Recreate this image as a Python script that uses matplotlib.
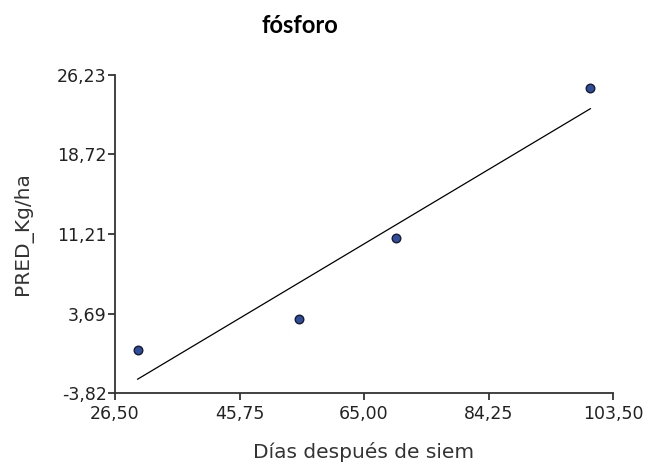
#!/usr/bin/env python3
import numpy as np
import matplotlib
matplotlib.use('Agg')
import matplotlib.pyplot as plt

# observed points (days after sowing, predicted kg/ha)
dias = [30.0, 55.0, 70.0, 100.0]
pred = [0.24, 3.17, 10.83, 25.0]

xticks = [26.50, 45.75, 65.00, 84.25, 103.50]
yticks = [-3.82, 3.69, 11.21, 18.72, 26.23]


def fmt(v):
    return ('%.2f' % v).replace('.', ',')


def main():
    X = np.array(dias)
    Y = np.array(pred)

    # best line of fit
    a, b = np.polyfit(X, Y, 1)
    xl = np.array([X.min(), X.max()])
    yl = a * xl + b

    plt.rcParams['font.family'] = ['DejaVu Sans']
    fig = plt.figure(figsize=(6.48, 4.66), dpi=100)
    ax = fig.add_axes([0.1775, 0.1567, 0.7685, 0.6823])

    ax.plot(xl, yl, color='black', lw=0.9)
    ax.scatter(X, Y, s=38, color='#2d4e9e', edgecolors='#1a1a2e',
               linewidths=1.0, zorder=3)

    ax.set_xlim(xticks[0], xticks[-1])
    ax.set_ylim(yticks[0], yticks[-1])
    ax.set_xticks(xticks)
    ax.set_yticks(yticks)
    ax.set_xticklabels([fmt(v) for v in xticks])
    ax.set_yticklabels([fmt(v) for v in yticks])
    ax.tick_params(labelsize=12.5, colors='#222222', length=5, width=1.2, pad=1)
    ax.tick_params(axis='x', pad=4)

    for s in ['top', 'right']:
        ax.spines[s].set_visible(False)
    for s in ['left', 'bottom']:
        ax.spines[s].set_linewidth(1.3)
        ax.spines[s].set_color('#333333')

    ax.set_xlabel('Días después de siem', fontsize=14.5, color='#333333', labelpad=13)
    ax.set_ylabel('PRED_Kg/ha', fontsize=14.5, color='#333333', labelpad=17)
    fig.text(0.463, 0.945, 'fósforo', ha='center', va='center',
             fontsize=17, fontweight='bold', family=['Lato', 'DejaVu Sans'])

    fig.savefig('out.png', dpi=100)


if __name__ == "__main__":
    main()
